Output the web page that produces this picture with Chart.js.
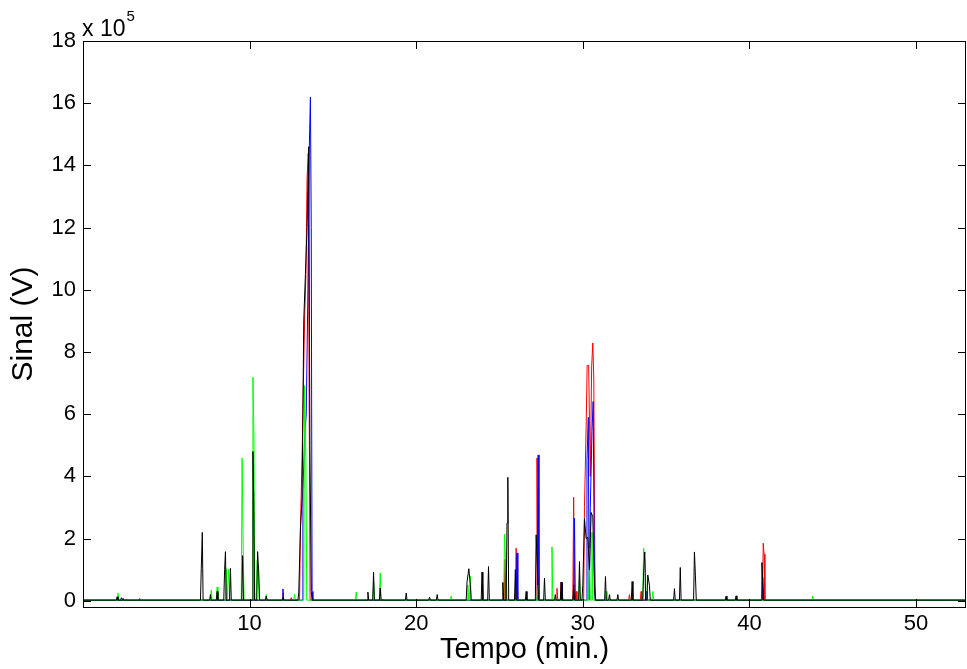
<!DOCTYPE html>
<html>
<head>
<meta charset="utf-8">
<script src="https://cdn.jsdelivr.net/npm/chart.js@4.4.1/dist/chart.umd.min.js"></script>
<style>
    html, body { margin: 0; padding: 0; background: #ffffff; }
    #wrap { width: 967px; height: 669px; }
</style>
</head>
<body>
<div id="wrap"><canvas id="chromChart" width="967" height="669"></canvas></div>
<script>
// Tick labels (signal in units of 10^5)
const xTicks = [10, 20, 30, 40, 50];
const yTicks = [0, 2, 4, 6, 8, 10, 12, 14, 16, 18];

// Baseline level of the chromatograms
const baseLevel = 0.02;

// Peaks: [time (min), signal (x 10^5)]
const redPeaks = [
    [2.6, 0.06], [12.0, 0.25], [12.5, 0.1], [13.05, 2.3], [13.15, 4.6], [13.22, 6.74], [13.3, 9.03],
    [13.38, 10.5], [13.45, 13.6], [13.52, 14.4], [13.58, 6.0], [18.0, 0.05], [25.33, 1.34], [26.0, 1.69],
    [27.25, 4.59], [28.45, 0.4], [28.7, 0.6], [29.45, 3.33], [29.6, 0.3], [30.1, 3.03], [30.2, 5.58],
    [30.26, 7.57], [30.35, 7.57], [30.45, 4.0], [30.53, 7.53], [30.6, 8.29], [30.66, 7.1], [30.72, 1.25],
    [32.8, 0.2], [33.5, 0.3], [40.83, 1.85], [40.88, 1.5]
];

const bluePeaks = [
    [2.3, 0.1], [3.4, 0.07], [12.0, 0.38], [13.2, 3.5], [13.3, 5.2], [13.4, 6.0], [13.5, 10.0],
    [13.58, 14.5], [13.65, 16.2], [13.7, 12.0], [13.75, 0.3], [26.05, 1.54], [27.32, 4.69], [28.75, 0.55],
    [29.5, 2.66], [30.25, 4.5], [30.33, 5.9], [30.45, 3.0], [30.55, 5.44], [30.62, 6.41], [30.7, 0.5],
    [33.8, 0.3], [40.8, 0.76]
];

const greenPeaks = [
    [2.1, 0.25], [7.7, 0.35], [8.05, 0.44], [8.6, 1.03], [8.75, 1.02], [9.55, 4.59], [9.62, 1.5],
    [10.2, 7.19], [10.26, 5.3], [10.45, 1.3], [10.52, 1.0], [11.0, 0.2], [12.7, 0.2], [13.3, 6.92],
    [13.38, 4.5], [16.4, 0.28], [17.45, 0.59], [17.84, 0.89], [22.1, 0.15], [23.1, 0.51], [23.25, 0.8],
    [24.0, 0.5], [25.3, 2.14], [25.4, 1.0], [27.3, 0.5], [28.15, 1.73], [29.8, 0.8], [30.4, 1.7],
    [30.55, 2.2], [31.4, 0.3], [33.65, 1.69], [33.75, 1.2], [34.2, 0.3], [43.8, 0.15]
];

const blackPeaks = [
    [2.05, 0.13], [2.4, 0.08], [7.1, 1.05], [7.16, 2.2], [7.65, 0.2], [8.05, 0.3], [8.5, 1.0],
    [8.55, 1.58], [8.85, 1.04], [9.58, 1.45], [10.2, 4.8], [10.25, 3.2], [10.48, 1.58], [10.55, 0.9],
    [11.0, 0.15], [12.0, 0.1], [12.95, 0.25], [13.05, 2.3], [13.15, 3.3], [13.25, 9.0], [13.35, 10.5],
    [13.45, 12.0], [13.55, 14.6], [13.62, 5.0], [13.7, 0.3], [17.1, 0.28], [17.44, 0.92], [17.84, 0.41],
    [19.4, 0.25], [20.8, 0.12], [21.26, 0.2], [23.05, 0.6], [23.16, 1.03], [23.25, 0.5], [23.95, 0.92],
    [24.34, 1.1], [25.2, 0.59], [25.45, 2.5], [25.5, 3.97], [25.95, 1.0], [26.6, 0.3], [27.2, 2.12],
    [27.3, 0.6], [27.7, 0.73], [28.35, 0.2], [28.7, 0.6], [29.45, 0.5], [29.8, 1.26], [30.0, 0.5],
    [30.1, 2.64], [30.2, 2.0], [30.3, 2.04], [30.4, 1.0], [30.5, 2.84], [30.6, 2.7], [30.7, 0.4],
    [31.36, 0.78], [31.6, 0.2], [32.1, 0.2], [32.96, 0.62], [33.65, 0.9], [33.72, 1.57], [33.9, 0.83],
    [34.0, 0.5], [35.5, 0.39], [35.85, 1.07], [36.7, 1.57], [36.76, 0.8], [38.6, 0.15], [39.2, 0.16],
    [40.75, 1.23], [40.8, 0.6]
];

const fontFamily = "'Liberation Sans', Arial, Helvetica, sans-serif";

// Turn a peak list into a line: back to baseline between separate peaks
function toLine(peaks) {
    const pts = [{ x: 0, y: baseLevel }];
    peaks.forEach(([t, h], i) => {
        const prev = peaks[i - 1];
        const next = peaks[i + 1];
        if (!prev || t - prev[0] > 0.11) pts.push({ x: t - 0.05, y: baseLevel });
        pts.push({ x: t, y: h });
        if (!next || next[0] - t > 0.11) pts.push({ x: t + 0.05, y: baseLevel });
    });
    pts.push({ x: 53, y: baseLevel });
    return pts;
}

// MATLAB-like box with inward ticks and the exponent label
const matlabFrame = {
    id: "matlabFrame",
    afterDraw(chart) {
        const { ctx, chartArea: a, scales } = chart;
        const tickLen = 8;
        ctx.save();
        ctx.strokeStyle = "#000000";
        ctx.lineWidth = 1;
        ctx.strokeRect(Math.round(a.left) + 0.5, Math.round(a.top) + 0.5,
            Math.round(a.right - a.left) - 1, Math.round(a.bottom - a.top));
        ctx.beginPath();
        xTicks.forEach(v => {
            const px = Math.round(scales.x.getPixelForValue(v)) + 0.5;
            ctx.moveTo(px, a.bottom);
            ctx.lineTo(px, a.bottom - tickLen);
            ctx.moveTo(px, a.top);
            ctx.lineTo(px, a.top + tickLen);
        });
        yTicks.forEach(v => {
            const py = Math.round(scales.y.getPixelForValue(v)) + 0.5;
            ctx.moveTo(a.left, py);
            ctx.lineTo(a.left + tickLen, py);
            ctx.moveTo(a.right, py);
            ctx.lineTo(a.right - tickLen, py);
        });
        ctx.stroke();

        // exponent label "x 10^5" above the y axis
        ctx.fillStyle = "#000000";
        ctx.textBaseline = "alphabetic";
        ctx.textAlign = "left";
        ctx.font = "23px " + fontFamily;
        ctx.fillText("x 10", 82, 36);
        const w = ctx.measureText("x 10").width;
        ctx.font = "15px " + fontFamily;
        ctx.fillText("5", 82 + w + 1, 21);
        ctx.restore();
    }
};

let chromChart;

function renderChart() {
    const canvas = document.getElementById("chromChart").getContext("2d");

    if (chromChart) {
        chromChart.destroy();
    }

    chromChart = new Chart(canvas, {
        type: "line",
        data: {
            datasets: [
                { label: "Preto", data: toLine(blackPeaks), borderColor: "#000000" },
                { label: "Verde", data: toLine(greenPeaks), borderColor: "#00ff00" },
                { label: "Azul", data: toLine(bluePeaks), borderColor: "#0000ff" },
                { label: "Vermelho", data: toLine(redPeaks), borderColor: "#ff0000" }
            ].map(ds => Object.assign(ds, {
                borderWidth: 1,
                pointRadius: 0,
                tension: 0,
                fill: false
            }))
        },
        options: {
            responsive: false,
            animation: false,
            devicePixelRatio: 1,
            layout: {
                padding: { top: 41, right: 1, left: 0, bottom: 0 }
            },
            scales: {
                x: {
                    type: "linear",
                    min: 0,
                    max: 53,
                    afterBuildTicks: axis => { axis.ticks = xTicks.map(v => ({ value: v })); },
                    afterFit: axis => { axis.height = 62; },
                    grid: { display: false, drawTicks: false },
                    border: { display: false },
                    ticks: {
                        color: "#000000",
                        padding: 4,
                        maxRotation: 0,
                        font: { family: fontFamily, size: 22 }
                    },
                    title: {
                        display: true,
                        text: "Tempo (min.)",
                        color: "#000000",
                        padding: { top: 0, bottom: 2 },
                        font: { family: fontFamily, size: 29 }
                    }
                },
                y: {
                    min: -0.2,
                    max: 18,
                    afterBuildTicks: axis => { axis.ticks = yTicks.map(v => ({ value: v })); },
                    afterFit: axis => { axis.width = 83; },
                    grid: { display: false, drawTicks: false },
                    border: { display: false },
                    ticks: {
                        color: "#000000",
                        padding: 7,
                        font: { family: fontFamily, size: 22 }
                    },
                    title: {
                        display: true,
                        text: "Sinal (V)",
                        color: "#000000",
                        padding: { top: 6, bottom: 0 },
                        font: { family: fontFamily, size: 30 }
                    }
                }
            },
            plugins: {
                legend: { display: false },
                tooltip: { enabled: false }
            }
        },
        plugins: [matlabFrame]
    });
}

document.addEventListener("DOMContentLoaded", renderChart);
</script>
</body>
</html>
